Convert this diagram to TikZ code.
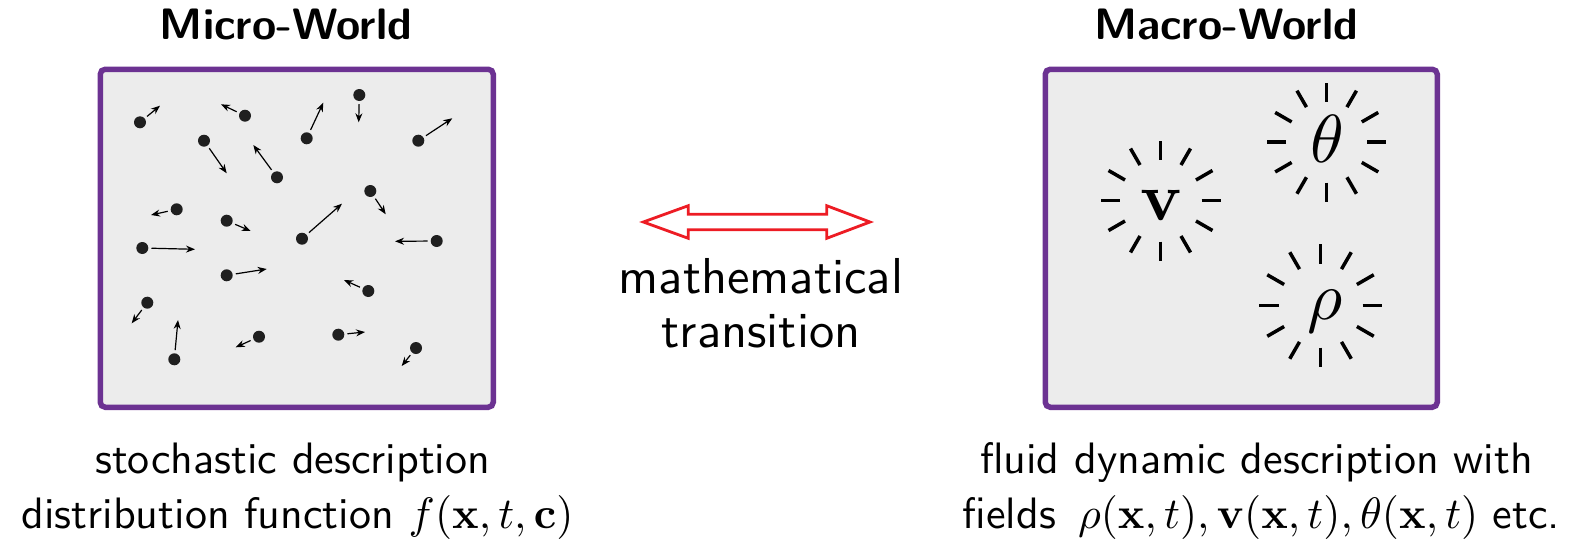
\RequirePackage{fix-cm}
\documentclass[tikz,border=0pt]{standalone}
\usepackage{graphicx}
\usetikzlibrary{calc,arrows.meta}
\definecolor{boxpurple}{RGB}{108,50,146}
\definecolor{boxgray}{RGB}{236,236,236}
\definecolor{arrowred}{RGB}{237,28,36}
\newcommand{\capscale}[1]{\scalebox{4.4}{#1}}
\newcommand{\midscale}[1]{\scalebox{5.05}{#1}}
\newcommand{\fieldscale}[1]{\scalebox{6.8}{#1}}
\tikzset{
  world/.style={draw=boxpurple, fill=boxgray, line width=5.5pt, rounded corners=5pt, inner sep=0pt, anchor=north west},
  worldtitle/.style={font=\fontsize{10}{12}\selectfont\sffamily\bfseries, anchor=base, inner sep=0pt},
  captext/.style={font=\fontsize{10}{12}\selectfont\sffamily, anchor=base, inner sep=0pt},
  midtext/.style={font=\fontsize{10}{12}\selectfont\sffamily, anchor=base, inner sep=0pt},
  particle/.style={circle, fill=black!88, minimum size=12pt, inner sep=0pt},
  velocity/.style={line width=1.2pt, shorten <=3pt, -{Stealth[length=9pt,width=7pt]}},
  ray/.style={line width=3.5pt},
  field/.style={font=\fontsize{10}{12}\selectfont, inner sep=0pt},
  transition/.style={draw=arrowred, line width=2.8pt, fill=white, line join=miter}
}
\begin{document}
\begin{tikzpicture}[x=1pt,y=-1pt]
\useasboundingbox (0,0) rectangle (1576,541);
% boxes
\node[world, minimum width=393pt, minimum height=338pt] (micro) at (97.5,66.5) {};
\node[world, minimum width=392pt, minimum height=338pt] (macro) at (1042.5,66.5) {};
% titles
\node[worldtitle] (microtitle) at (286,39.5) {\capscale{Micro-World}};
\node[worldtitle] (macrotitle) at (1226,39.5) {\capscale{Macro-World}};
% particles
\foreach \i/\x/\y/\tx/\ty in {
  1/140/122.3/160/105.7,
  2/245/115.7/221/104.3,
  3/306.7/138.3/323.3/102.7,
  4/359.3/95/358.7/122.3,
  5/418.3/140.7/452.3/118.3,
  6/204/140.7/226.7/173.3,
  7/277/177.3/253.3/145,
  8/176.7/209.3/151/215,
  9/226.7/220.7/250.7/231,
  10/302/238.7/342/203.7,
  11/370.3/191/385.7/214.3,
  12/142.3/248/195/249.3,
  13/436.7/241/395/241.3,
  14/226.7/275.3/266.7/269,
  15/368.3/291/344/280,
  16/147.3/302.7/131.7/323.3,
  17/174.3/359.3/178/320,
  18/259/336.7/235.7/347.3,
  19/338.3/334.7/365/332,
  20/416/348/401.7/366}{
  \node[particle] (p\i) at (\x,\y) {};
  \draw[velocity] (p\i) -- (\tx,\ty);
}
% fields
\node[field] (v) at (1161.7,205) {\fieldscale{$\mathbf{v}$}};
\node[field] (theta) at (1327.7,139) {\fieldscale{$\theta$}};
\node[field] (rho) at (1325.5,311.5) {\fieldscale{$\rho$}};
\foreach \cx/\cy/\ri/\ro in {1160.5/200.5/41/60, 1326.7/142.2/40.5/59.5, 1320.5/305.5/42/61.5}{
  \foreach \a in {0,30,...,330}{
    \draw[ray] (\cx,\cy) ++(\a:\ri) -- ++(\a:\ro-\ri);
  }
}
% transition arrow
\draw[transition] (643.3,222) -- (688.3,205.7) -- (688.3,214.3) -- (826.7,214.3) -- (826.7,205.7)
  -- (870,222) -- (826.7,238.3) -- (826.7,229.7) -- (688.3,229.7) -- (688.3,238.3) -- cycle;
\node[midtext] (mt1) at (761,293) {\midscale{mathematical}};
\node[midtext] (mt2) at (761,347) {\midscale{transition}};
% captions
\node[captext] (lc1) at (292.7,473) {\capscale{stochastic description}};
\node[captext] (lc2) at (297.5,528) {\capscale{distribution function $f(\mathbf{x},t,\mathbf{c})$}};
\node[captext] (rc1) at (1256.5,473) {\capscale{fluid dynamic description with}};
\node[captext] (rc2) at (1261.5,528) {\capscale{fields\enspace$\rho(\mathbf{x},t), \mathbf{v}(\mathbf{x},t), \theta(\mathbf{x},t)$ etc.}};
\end{tikzpicture}
\end{document}
